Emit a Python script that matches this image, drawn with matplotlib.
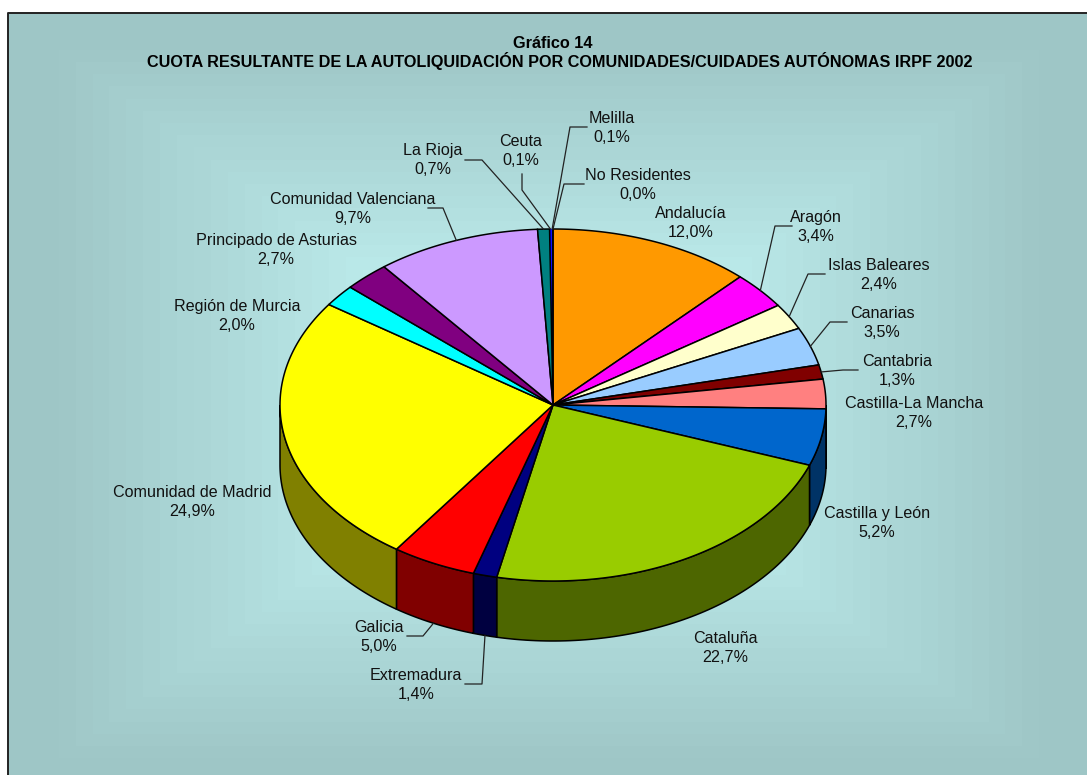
import numpy as np
import matplotlib
matplotlib.use('Agg')
import matplotlib.pyplot as plt
from matplotlib.patches import Polygon

plt.rcParams['font.family'] = ['Liberation Sans', 'DejaVu Sans']

# data, percent of the total
names = ['Andalucía', 'Aragón', 'Islas Baleares', 'Canarias', 'Cantabria', 'Castilla-La Mancha',
         'Castilla y León', 'Cataluña', 'Extremadura', 'Galicia', 'Comunidad de Madrid', 'Región de Murcia',
         'Principado de Asturias', 'Comunidad Valenciana', 'La Rioja', 'Ceuta', 'Melilla', 'No Residentes']
values = [12.0, 3.4, 2.4, 3.5, 1.3, 2.7, 5.2, 22.7, 1.4, 5.0, 24.9, 2.0, 2.7, 9.7, 0.7, 0.1, 0.1, 0.0]
colors = ['#FF9900', '#FF00FF', '#FFFFCC', '#99CCFF', '#800000', '#FF8080', '#0066CC', '#99CC00', '#000080',
          '#FF0000', '#FFFF00', '#00FFFF', '#800080', '#CC99FF', '#008080', '#0000FF', '#0000FF', '#0000FF']
side_colors = ['#804D00', '#800080', '#808066', '#4D6680', '#400000', '#804040', '#003366', '#4D6600', '#000040',
               '#800000', '#808000', '#008080', '#400040', '#664D80', '#004040', '#000080', '#000080', '#000080']

title_1 = 'Gráfico 14'
title_2 = 'CUOTA RESULTANTE DE LA AUTOLIQUIDACIÓN POR COMUNIDADES/CUIDADES AUTÓNOMAS IRPF 2002'

# layout in pixels: label centre and optional leader points (from label to knee)
label_pos = {
    'Andalucía': (691, 223), 'Aragón': (816, 227), 'Islas Baleares': (879, 275), 'Canarias': (882, 323),
    'Cantabria': (897, 371), 'Castilla-La Mancha': (914, 413), 'Castilla y León': (877, 523), 'Cataluña': (725, 648),
    'Extremadura': (416, 685), 'Galicia': (379, 637), 'Comunidad de Madrid': (192, 502), 'Región de Murcia': (237, 316),
    'Principado de Asturias': (276, 250), 'Comunidad Valenciana': (353, 209), 'La Rioja': (433, 160), 'Ceuta': (521, 151),
    'Melilla': (612, 128), 'No Residentes': (638, 185)}
leaders = {
    'Aragón': [(792, 226), (775, 226)], 'Islas Baleares': [(825, 274), (808, 274)], 'Canarias': [(847, 322), (830, 322)],
    'Cantabria': [(858, 370), (843, 370)], 'Extremadura': [(465, 684), (482, 684)], 'Galicia': [(407, 636), (423, 636)],
    'Comunidad Valenciana': [(428, 208), (443, 208)], 'La Rioja': [(465, 160), (482, 160)], 'Ceuta': [(522, 174), (522, 190)],
    'Melilla': [(587, 127), (570, 127)], 'No Residentes': [(584, 184), (564, 184)]}

cx, cy, rx, ry, depth = 553, 405, 273, 176, 60
W, H = 1087, 775

fig = plt.figure(figsize=(W / 100, H / 100), dpi=100, facecolor='white')
ax = fig.add_axes([0, 0, 1, 1])
ax.set_xlim(0, W)
ax.set_ylim(H, 0)
ax.axis('off')

# banded rectangular gradient behind everything, flat near the outer edge
x0, x1, y0, y1 = 8, 1090, 13, 795
xx, yy = np.meshgrid(np.arange(x0, x1) + 0.5, np.arange(y0, y1) + 0.5)
t = np.maximum(np.abs(xx - (x0 + x1) / 2) / ((x1 - x0) / 2), np.abs(yy - (y0 + y1) / 2) / ((y1 - y0) / 2))
t = np.minimum(np.ceil(t * 32) / 32, 0.93)
c0, c1 = np.array([204, 255, 255]) / 255, np.array([155, 194, 194]) / 255
img = c0 + (c1 - c0) * t[..., None]
ax.imshow(img, extent=(x0, x1, y1, y0), aspect='auto', zorder=0, interpolation='nearest')
ax.set_xlim(0, W)
ax.set_ylim(H, 0)
ax.plot([x0, x0, x1], [H + 5, y0, y0], color='#222222', lw=1.4, zorder=1)


def pt(a, drop=0):
    # a is degrees clockwise from the top
    r = np.radians(a)
    return cx + rx * np.sin(r), cy - ry * np.cos(r) + drop


edges = np.cumsum([0] + values) / sum(values) * 360

# sides first, only the front half can be seen
for i in range(len(values)):
    a = max(edges[i], 90)
    b = min(edges[i + 1], 270)
    if b <= a:
        continue
    s = np.linspace(a, b, 80)
    tx, ty = pt(s)
    bx, by = pt(s, depth)
    ax.add_patch(Polygon(np.r_[np.c_[tx, ty], np.c_[bx, by][::-1]], closed=True, fc=side_colors[i], ec='black', lw=1.1, zorder=3))

# top of the pie, the tiny slices get no black edge or they vanish under it
for i in range(len(values)):
    if values[i] == 0:
        continue
    s = np.linspace(edges[i], edges[i + 1], max(int(edges[i + 1] - edges[i]) * 3, 3))
    tx, ty = pt(s)
    tiny = values[i] < 0.5
    ax.add_patch(Polygon(np.r_[[[cx, cy]], np.c_[tx, ty]], closed=True, fc=colors[i], ec=colors[i] if tiny else 'black',
                         lw=0.3 if tiny else 1.1, zorder=3.9 if tiny else 4))
ax.plot(*zip(*[(cx, cy), pt(edges[0])]), color='black', lw=1.1, zorder=4.5)

# labels and leaders
for i, n in enumerate(names):
    lx, ly = label_pos[n]
    ax.text(lx, ly, '%s\n%s%%' % (n, ('%.1f' % values[i]).replace('.', ',')), ha='center', va='center',
            fontsize=11.6, color='#111111', linespacing=1.37, zorder=6)
    if n in leaders:
        mid = (edges[i] + edges[i + 1]) / 2
        drop = depth if 90 < mid < 270 else 0
        ex, ey = pt(mid, drop)
        p = leaders[n] + [(ex, ey)]
        ax.plot([q[0] for q in p], [q[1] for q in p], color='#222222', lw=0.9, zorder=5)

ax.text(553, 44, title_1, ha='center', va='center', fontsize=11.7, fontweight='bold', color='black', zorder=6)
ax.text(560, 61, title_2, ha='center', va='center', fontsize=11.7, fontweight='bold', color='black', zorder=6)

fig.savefig('out.png', dpi=100)
